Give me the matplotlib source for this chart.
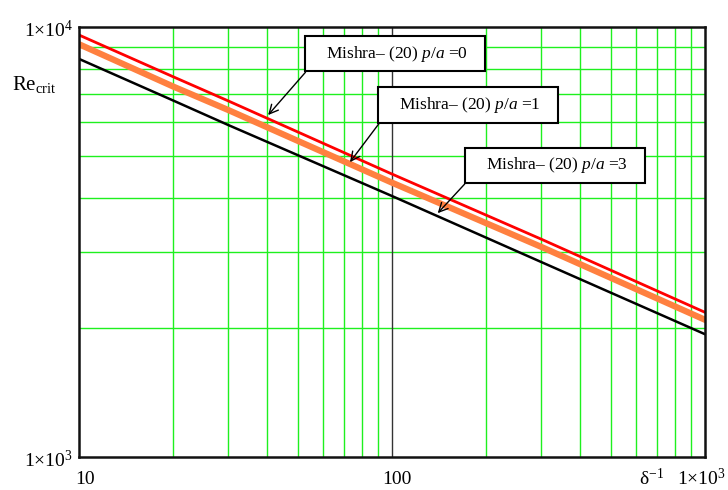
import numpy as np
import matplotlib.pyplot as plt

plt.rcParams['font.family'] = ['Liberation Serif', 'DejaVu Serif']
plt.rcParams['mathtext.fontset'] = 'custom'
plt.rcParams['mathtext.rm'] = 'Liberation Serif'
plt.rcParams['mathtext.it'] = 'Liberation Serif:italic'

# inverse boundary-layer thickness and critical Reynolds number
inv_delta = [10, 20, 30, 100, 300, 1000]
re_pa0 = [9580, 7660, 6730, 4550, 3210, 2170]
re_pa1 = [9120, 7270, 6410, 4345, 3080, 2085]
re_pa3 = [8430, 6745, 5915, 4045, 2840, 1930]

fig = plt.figure(figsize=(7.28, 4.90), dpi=100)
ax = fig.add_axes([79 / 728, 33 / 490, 626 / 728, 430 / 490])

ax.plot(inv_delta, re_pa0, color='#ff0000', lw=2.0, zorder=4)
ax.plot(inv_delta, re_pa1, color='#ff8040', lw=4.5, zorder=3)
ax.plot(inv_delta, re_pa3, color='black', lw=1.8, zorder=4)

ax.set_xscale('log')
ax.set_yscale('log')
ax.set_xlim(10, 1000)
ax.set_ylim(1000, 10000)

# grid: green minor lines, dark line at the single interior decade
gc = '#1ef01e'
for v in list(range(20, 100, 10)) + list(range(200, 1000, 100)):
    ax.axvline(v, color=gc, lw=1.0, zorder=1)
for v in range(2000, 10000, 1000):
    ax.axhline(v, color=gc, lw=1.0, zorder=1)
ax.axvline(100, color='#333333', lw=1.0, zorder=1)

ax.minorticks_off()
ax.set_xticks([])
ax.set_yticks([])
for s in ax.spines.values():
    s.set_linewidth(1.8)
    s.set_color('#111111')
    s.set_zorder(5)

fs = 12.5
tfs = 14
# axis annotations
fig.text(73 / 728, 1 - 30 / 490, r'$1{\times}10^{4}$', ha='right', va='center', fontsize=tfs)
fig.text(73 / 728, 1 - 460 / 490, r'$1{\times}10^{3}$', ha='right', va='center', fontsize=tfs)
fig.text(85 / 728, 1 - 479 / 490, '10', ha='center', va='center', fontsize=tfs)
fig.text(397 / 728, 1 - 479 / 490, '100', ha='center', va='center', fontsize=tfs)
fig.text(726 / 728, 1 - 479 / 490, r'$1{\times}10^{3}$', ha='right', va='center', fontsize=tfs)
fig.text(652 / 728, 1 - 479 / 490, 'δ' + r'$^{\mathrm{-1}}$', ha='center', va='center', fontsize=tfs)
fig.text(12 / 728, 1 - 84 / 490, r'$\mathrm{Re}_{\mathrm{crit}}$', ha='left', va='center', fontsize=15)

box = dict(boxstyle='square,pad=0.45', fc='white', ec='black', lw=1.5)
arrow = dict(arrowstyle='->', color='black', lw=1.0, mutation_scale=16,
             relpos=(0, 0), shrinkA=0, shrinkB=0)

labels = [r'   Mishra– (20) $\it{p/a}$ =0   ',
          r'   Mishra– (20) $\it{p/a}$ =1   ',
          r'   Mishra– (20) $\it{p/a}$ =3   ']
tips = [(40.2, 6240), (73.4, 4850), (140, 3690)]
boxes = [(0.505, 0.938), (0.621, 0.819), (0.760, 0.678)]
for lab, tip, pos in zip(labels, tips, boxes):
    ax.annotate(lab, xy=tip, xycoords='data', xytext=pos, textcoords='axes fraction',
                ha='center', va='center', fontsize=fs, bbox=box,
                arrowprops=arrow, zorder=6)

fig.savefig('out.png', dpi=100)
